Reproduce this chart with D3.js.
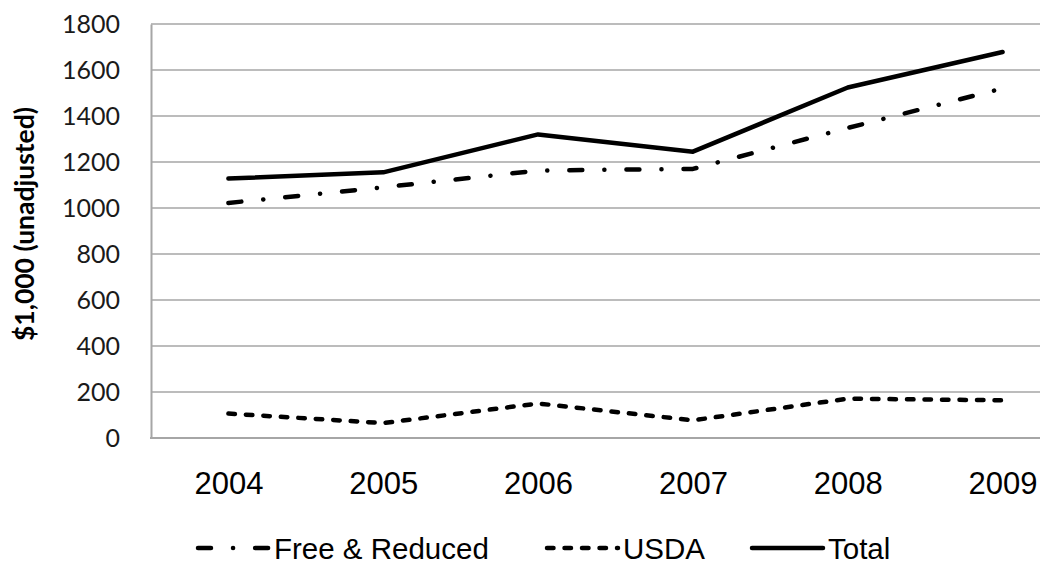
<!DOCTYPE html>
<html>
<head>
<meta charset="utf-8">
<script src="https://cdn.jsdelivr.net/npm/d3@7"></script>
<style>
  body { margin: 0; background: #fff; }
</style>
</head>
<body>
<div id="chart"></div>
<script>
const years = ['2004', '2005', '2006', '2007', '2008', '2009'];
const freeReduced = [1022, 1090, 1163, 1170, 1348, 1520];
const usda = [106, 65, 150, 77, 171, 164];
const total = [1128, 1155, 1320, 1245, 1524, 1678];
const yTicks = [0, 200, 400, 600, 800, 1000, 1200, 1400, 1600, 1800];

const series = [
    { name: 'Free & Reduced', values: freeReduced, dash: '13 22 0.1 22' },
    { name: 'USDA', values: usda, dash: '6.5 11' },
    { name: 'Total', values: total, dash: null }
];

const width = 1040, height = 570;
// plot area runs past the right edge of the picture (cropped like the original)
const plot = { left: 151, right: 1080, top: 24, bottom: 438 };

const svg = d3.select('#chart')
    .append('svg')
    .attr('width', width)
    .attr('height', height);

const x = d3.scalePoint()
    .domain(years)
    .range([plot.left, plot.right])
    .padding(0.5);

const y = d3.scaleLinear()
    .domain([0, 1800])
    .range([plot.bottom, plot.top]);

// gridlines
svg.append('g')
    .selectAll('line')
    .data(yTicks.filter(d => d > 0))
    .join('line')
    .attr('x1', plot.left)
    .attr('x2', width)
    .attr('y1', d => y(d))
    .attr('y2', d => y(d))
    .attr('stroke', '#a6a6a6')
    .attr('stroke-width', 1.5);

// axes
const yAxis = svg.append('g')
    .attr('transform', `translate(${plot.left},0)`)
    .call(d3.axisLeft(y).tickValues(yTicks).tickFormat(d3.format('d')).tickSize(0).tickPadding(31));
yAxis.select('.domain').attr('stroke', '#a6a6a6').attr('stroke-width', 2);
yAxis.selectAll('text')
    .style('font-family', 'Lato, sans-serif')
    .style('font-size', '25px')
    .attr('fill', '#1a1a1a');

const xAxis = svg.append('g')
    .attr('transform', `translate(0,${plot.bottom})`)
    .call(d3.axisBottom(x).tickSize(0).tickPadding(34));
xAxis.select('.domain').remove();
svg.append('line')
    .attr('x1', plot.left - 1).attr('x2', width)
    .attr('y1', plot.bottom).attr('y2', plot.bottom)
    .attr('stroke', '#a6a6a6').attr('stroke-width', 2);
xAxis.selectAll('text')
    .style('font-family', '"Liberation Sans", Arial, sans-serif')
    .style('font-size', '31px')
    .attr('fill', '#000');

// y axis title
svg.append('text')
    .attr('transform', 'translate(34,224) rotate(-90)')
    .attr('text-anchor', 'middle')
    .style('font-family', 'Lato, sans-serif')
    .style('font-weight', 'bold')
    .style('font-size', '26.5px')
    .text('$1,000 (unadjusted)');

// lines
const line = d3.line()
    .x((d, i) => x(years[i]))
    .y(d => y(d));

svg.append('g')
    .selectAll('path')
    .data(series)
    .join('path')
    .attr('d', d => line(d.values))
    .attr('fill', 'none')
    .attr('stroke', '#000')
    .attr('stroke-width', 4.5)
    .attr('stroke-linecap', 'round')
    .attr('stroke-linejoin', 'round')
    .attr('stroke-dasharray', d => d.dash);

// legend
const legendPos = [198, 547, 752];
const legend = svg.append('g')
    .selectAll('g')
    .data(series)
    .join('g')
    .attr('transform', (d, i) => `translate(${legendPos[i]},548)`);

legend.append('line')
    .attr('x1', 0).attr('x2', 71)
    .attr('stroke', '#000')
    .attr('stroke-width', 4.5)
    .attr('stroke-linecap', 'round')
    .attr('stroke-dasharray', d => d.dash);

legend.append('text')
    .attr('x', 76)
    .attr('y', 11)
    .style('font-family', '"Liberation Sans", Arial, sans-serif')
    .style('font-size', '29.5px')
    .text(d => d.name);
</script>
</body>
</html>
